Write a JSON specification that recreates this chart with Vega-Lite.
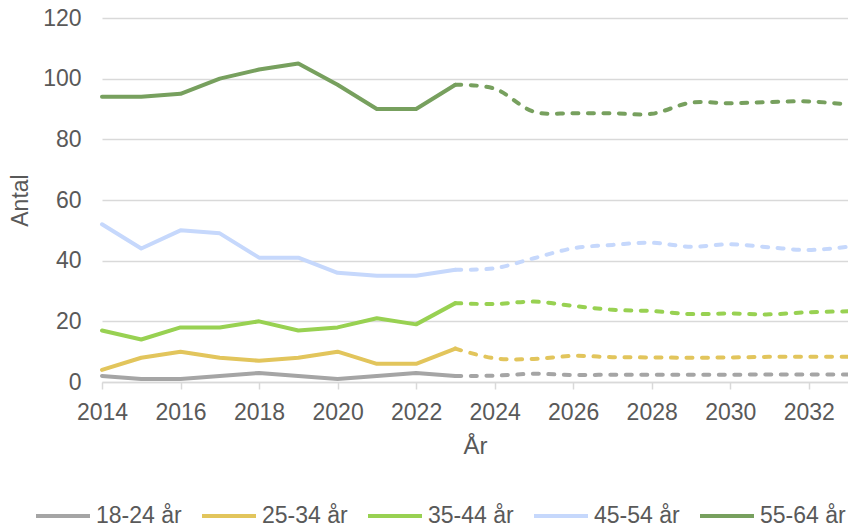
{
  "$schema": "https://vega.github.io/schema/vega-lite/v6.json",
  "width": 746,
  "height": 364,
  "autosize": {"type": "none"},
  "padding": {"left": 102, "top": 18, "right": 0, "bottom": 144},
  "background": "white",
  "config": {
    "view": {"stroke": null},
    "font": "Liberation Sans",
    "axis": {"labelColor": "#595959", "titleColor": "#595959", "titleFontWeight": "normal", "labelFontSize": 23, "titleFontSize": 24, "labelFont": "Liberation Sans", "titleFont": "Liberation Sans"},
    "legend": {"labelColor": "#595959", "labelFont": "Liberation Sans"}
  },
  "datasets": {
    "hist": [
      {"year": 2014, "group": "18-24 år", "value": 2}, {"year": 2015, "group": "18-24 år", "value": 1}, {"year": 2016, "group": "18-24 år", "value": 1}, {"year": 2017, "group": "18-24 år", "value": 2}, {"year": 2018, "group": "18-24 år", "value": 3}, {"year": 2019, "group": "18-24 år", "value": 2}, {"year": 2020, "group": "18-24 år", "value": 1}, {"year": 2021, "group": "18-24 år", "value": 2}, {"year": 2022, "group": "18-24 år", "value": 3}, {"year": 2023, "group": "18-24 år", "value": 2},
      {"year": 2014, "group": "25-34 år", "value": 4}, {"year": 2015, "group": "25-34 år", "value": 8}, {"year": 2016, "group": "25-34 år", "value": 10}, {"year": 2017, "group": "25-34 år", "value": 8}, {"year": 2018, "group": "25-34 år", "value": 7}, {"year": 2019, "group": "25-34 år", "value": 8}, {"year": 2020, "group": "25-34 år", "value": 10}, {"year": 2021, "group": "25-34 år", "value": 6}, {"year": 2022, "group": "25-34 år", "value": 6}, {"year": 2023, "group": "25-34 år", "value": 11},
      {"year": 2014, "group": "35-44 år", "value": 17}, {"year": 2015, "group": "35-44 år", "value": 14}, {"year": 2016, "group": "35-44 år", "value": 18}, {"year": 2017, "group": "35-44 år", "value": 18}, {"year": 2018, "group": "35-44 år", "value": 20}, {"year": 2019, "group": "35-44 år", "value": 17}, {"year": 2020, "group": "35-44 år", "value": 18}, {"year": 2021, "group": "35-44 år", "value": 21}, {"year": 2022, "group": "35-44 år", "value": 19}, {"year": 2023, "group": "35-44 år", "value": 26},
      {"year": 2014, "group": "45-54 år", "value": 52}, {"year": 2015, "group": "45-54 år", "value": 44}, {"year": 2016, "group": "45-54 år", "value": 50}, {"year": 2017, "group": "45-54 år", "value": 49}, {"year": 2018, "group": "45-54 år", "value": 41}, {"year": 2019, "group": "45-54 år", "value": 41}, {"year": 2020, "group": "45-54 år", "value": 36}, {"year": 2021, "group": "45-54 år", "value": 35}, {"year": 2022, "group": "45-54 år", "value": 35}, {"year": 2023, "group": "45-54 år", "value": 37},
      {"year": 2014, "group": "55-64 år", "value": 94}, {"year": 2015, "group": "55-64 år", "value": 94}, {"year": 2016, "group": "55-64 år", "value": 95}, {"year": 2017, "group": "55-64 år", "value": 100}, {"year": 2018, "group": "55-64 år", "value": 103}, {"year": 2019, "group": "55-64 år", "value": 105}, {"year": 2020, "group": "55-64 år", "value": 98}, {"year": 2021, "group": "55-64 år", "value": 90}, {"year": 2022, "group": "55-64 år", "value": 90}, {"year": 2023, "group": "55-64 år", "value": 98}
    ],
    "prog": [
      {"year": 2023, "group": "18-24 år", "value": 2}, {"year": 2024, "group": "18-24 år", "value": 2.1}, {"year": 2025, "group": "18-24 år", "value": 2.7}, {"year": 2026, "group": "18-24 år", "value": 2.3}, {"year": 2027, "group": "18-24 år", "value": 2.4}, {"year": 2028, "group": "18-24 år", "value": 2.4}, {"year": 2029, "group": "18-24 år", "value": 2.4}, {"year": 2030, "group": "18-24 år", "value": 2.4}, {"year": 2031, "group": "18-24 år", "value": 2.5}, {"year": 2032, "group": "18-24 år", "value": 2.5}, {"year": 2033, "group": "18-24 år", "value": 2.5},
      {"year": 2023, "group": "25-34 år", "value": 11}, {"year": 2024, "group": "25-34 år", "value": 7.8}, {"year": 2025, "group": "25-34 år", "value": 7.6}, {"year": 2026, "group": "25-34 år", "value": 8.6}, {"year": 2027, "group": "25-34 år", "value": 8.2}, {"year": 2028, "group": "25-34 år", "value": 8.1}, {"year": 2029, "group": "25-34 år", "value": 8.0}, {"year": 2030, "group": "25-34 år", "value": 8.1}, {"year": 2031, "group": "25-34 år", "value": 8.3}, {"year": 2032, "group": "25-34 år", "value": 8.3}, {"year": 2033, "group": "25-34 år", "value": 8.3},
      {"year": 2023, "group": "35-44 år", "value": 26}, {"year": 2024, "group": "35-44 år", "value": 25.7}, {"year": 2025, "group": "35-44 år", "value": 26.5}, {"year": 2026, "group": "35-44 år", "value": 25.1}, {"year": 2027, "group": "35-44 år", "value": 23.8}, {"year": 2028, "group": "35-44 år", "value": 23.4}, {"year": 2029, "group": "35-44 år", "value": 22.4}, {"year": 2030, "group": "35-44 år", "value": 22.6}, {"year": 2031, "group": "35-44 år", "value": 22.3}, {"year": 2032, "group": "35-44 år", "value": 23.0}, {"year": 2033, "group": "35-44 år", "value": 23.3},
      {"year": 2023, "group": "45-54 år", "value": 37}, {"year": 2024, "group": "45-54 år", "value": 37.5}, {"year": 2025, "group": "45-54 år", "value": 40.8}, {"year": 2026, "group": "45-54 år", "value": 44.1}, {"year": 2027, "group": "45-54 år", "value": 45.2}, {"year": 2028, "group": "45-54 år", "value": 45.9}, {"year": 2029, "group": "45-54 år", "value": 44.6}, {"year": 2030, "group": "45-54 år", "value": 45.4}, {"year": 2031, "group": "45-54 år", "value": 44.4}, {"year": 2032, "group": "45-54 år", "value": 43.5}, {"year": 2033, "group": "45-54 år", "value": 44.6},
      {"year": 2023, "group": "55-64 år", "value": 98}, {"year": 2024, "group": "55-64 år", "value": 96.7}, {"year": 2025, "group": "55-64 år", "value": 89.1}, {"year": 2026, "group": "55-64 år", "value": 88.6}, {"year": 2027, "group": "55-64 år", "value": 88.6}, {"year": 2028, "group": "55-64 år", "value": 88.4}, {"year": 2029, "group": "55-64 år", "value": 92.1}, {"year": 2030, "group": "55-64 år", "value": 91.9}, {"year": 2031, "group": "55-64 år", "value": 92.3}, {"year": 2032, "group": "55-64 år", "value": 92.5}, {"year": 2033, "group": "55-64 år", "value": 91.5}
    ]
  },
  "encoding": {
    "x": {
      "field": "year", "type": "quantitative",
      "scale": {"domain": [2014, 2033], "nice": false, "zero": false},
      "axis": {"title": "År", "values": [2014, 2016, 2018, 2020, 2022, 2024, 2026, 2028, 2030, 2032], "format": "d", "grid": false, "domainColor": "#d9d9d9", "domainWidth": 1.5, "tickColor": "#d9d9d9", "tickWidth": 1.5, "tickSize": 7, "labelPadding": 12, "titlePadding": 10, "labelFlush": false}
    },
    "y": {
      "field": "value", "type": "quantitative",
      "scale": {"domain": [0, 120], "nice": false},
      "axis": {"title": "Antal", "values": [0, 20, 40, 60, 80, 100, 120], "grid": true, "gridColor": "#d9d9d9", "gridWidth": 1.5, "domain": false, "ticks": false, "labelPadding": 21, "titleX": -82, "titleY": 182, "titleAngle": 270, "titleAlign": "center", "titleBaseline": "middle", "titleFontSize": 23}
    }
  },
  "layer": [
    {
      "data": {"values": [{"label": "Prognos"}]},
      "mark": {"type": "rule", "color": "#d9d9d9", "strokeWidth": 2},
      "encoding": {"x": {"datum": 2023, "type": "quantitative"}, "y": null}
    },
    {
      "data": {"values": [{"label": "Prognos"}]},
      "mark": {"type": "text", "align": "left", "baseline": "alphabetic", "dx": 10, "fontSize": 23, "color": "#595959", "font": "Liberation Sans"},
      "encoding": {"x": {"datum": 2023, "type": "quantitative"}, "y": {"datum": 107.5, "type": "quantitative"}, "text": {"field": "label"}}
    },
    {
      "data": {"name": "hist"},
      "mark": {"type": "line", "strokeWidth": 4, "strokeJoin": "round", "strokeCap": "round"},
      "encoding": {
        "color": {
          "field": "group", "type": "nominal",
          "scale": {"domain": ["18-24 år", "25-34 år", "35-44 år", "45-54 år", "55-64 år"], "range": ["#a5a5a5", "#e2c55c", "#98d152", "#c6d8fc", "#77a05e"]},
          "legend": {"title": null, "orient": "none", "direction": "horizontal", "legendX": -68, "legendY": 469, "symbolType": "stroke", "symbolSize": 2916, "symbolStrokeWidth": 4, "symbolDash": [], "labelFontSize": 23, "labelOffset": 4, "columnPadding": 12, "labelLimit": 200}
        }
      }
    },
    {
      "data": {"name": "prog"},
      "mark": {"type": "line", "strokeWidth": 4, "strokeDash": [6, 9.5], "strokeCap": "round", "interpolate": "catmull-rom"},
      "encoding": {
        "color": {"field": "group", "type": "nominal"}
      }
    }
  ]
}
